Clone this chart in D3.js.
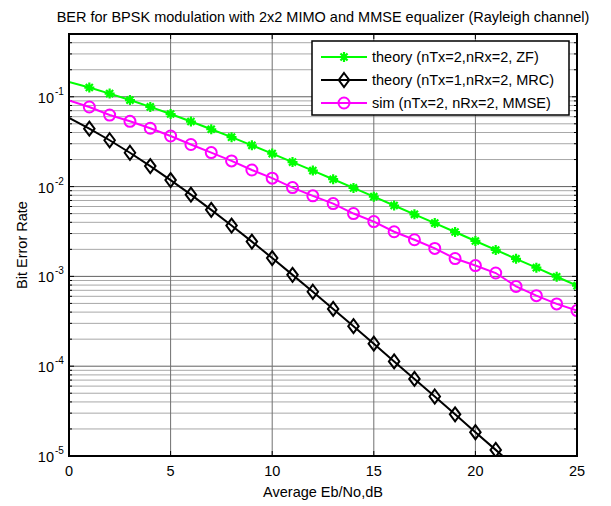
<!DOCTYPE html>
<meta charset="utf-8">
<style>
  body { margin: 0; background: #fff; }
  text { font-family: "Liberation Sans", Arial, sans-serif; }
</style>
<body>
<script src="https://d3js.org/d3.v7.min.js"></script>
<script>

var width = 611,
    height = 506;

// Eb/No points (dB)
var ebno = [0,1,2,3,4,5,6,7,8,9,10,11,12,13,14,15,16,17,18,19,20,21,22,23,24,25];

// theory, nTx=2, nRx=2, ZF
var berZF = [0.1464,0.1267,0.1085,0.0919,0.0771,0.0642,0.0530,0.0435,0.0355,0.0288,
             0.0233,0.01875,0.01506,0.01208,0.00967,0.00772,0.00616,0.00491,0.00392,0.00312,
             0.00248,0.00197,0.00157,0.00125,0.000991,0.000788];

// theory, nTx=1, nRx=2, MRC
var berMRC = [0.0581,0.0441,0.0328,0.0238,0.0169,0.0118,0.00813,0.00551,0.00368,0.00244,
              0.00160,0.00104,0.000674,0.000434,0.000279,0.000178,0.000113,0.0000721,0.0000460,0.0000291,
              0.0000184,0.0000117,0.0000074,0.0000047,0.0000029,0.0000019];

// simulation, nTx=2, nRx=2, MMSE
var berMMSE = [0.0912,0.0769,0.0626,0.0533,0.0446,0.0366,0.0294,0.0239,0.0193,0.0153,
               0.0124,0.00975,0.00788,0.00647,0.00501,0.00408,0.00314,0.00256,0.00205,0.00158,
               0.00132,0.00109,0.000774,0.000610,0.000494,0.000416];

var xTicks = [0,5,10,15,20,25];
var yDecades = [1e-5,1e-4,1e-3,1e-2,1e-1];
var yExp = [-5,-4,-3,-2,-1];

var legendLabels = ["theory (nTx=2,nRx=2, ZF)", "theory (nTx=1,nRx=2, MRC)", "sim (nTx=2, nRx=2, MMSE)"];

var margin = {left: 69, right: 34, top: 34, bottom: 50};
var fs = 14.5;

var x = d3.scaleLinear().domain([0, 25]).range([margin.left, width - margin.right]);
var y = d3.scaleLog().domain([1e-5, 0.5]).range([height - margin.bottom, margin.top]);

var svg = d3.select("body").append("svg")
    .attr("width", width)
    .attr("height", height);

var x0 = x(0), x1 = x(25), yTop = y(0.5), yBot = y(1e-5);

// minor y values
var minor = [];
yDecades.forEach(function(d) {
  for (var k = 2; k <= 9; k++) {
    var v = d * k;
    if (v <= 0.5) minor.push(v);
  }
});

// grid
svg.append("g").selectAll("line.ymin")
    .data(minor)
  .enter().append("line")
    .attr("x1", x0).attr("x2", x1)
    .attr("y1", function(d) { return y(d); })
    .attr("y2", function(d) { return y(d); })
    .attr("stroke", "#a8a8a8").attr("stroke-width", 1);

svg.append("g").selectAll("line.ymaj")
    .data(yDecades.slice(1))
  .enter().append("line")
    .attr("x1", x0).attr("x2", x1)
    .attr("y1", function(d) { return y(d); })
    .attr("y2", function(d) { return y(d); })
    .attr("stroke", "#606060").attr("stroke-width", 1);

svg.append("g").selectAll("line.xg")
    .data(xTicks.slice(1, -1))
  .enter().append("line")
    .attr("x1", function(d) { return x(d); })
    .attr("x2", function(d) { return x(d); })
    .attr("y1", yTop).attr("y2", yBot)
    .attr("stroke", "#707070").attr("stroke-width", 1);

// ticks (inward), left/right/top/bottom
var tk = svg.append("g").attr("stroke", "#000").attr("stroke-width", 1);
xTicks.forEach(function(d) {
  tk.append("line").attr("x1", x(d)).attr("x2", x(d)).attr("y1", yBot).attr("y2", yBot - 5);
  tk.append("line").attr("x1", x(d)).attr("x2", x(d)).attr("y1", yTop).attr("y2", yTop + 5);
});
yDecades.forEach(function(d) {
  tk.append("line").attr("x1", x0).attr("x2", x0 + 5).attr("y1", y(d)).attr("y2", y(d));
  tk.append("line").attr("x1", x1).attr("x2", x1 - 5).attr("y1", y(d)).attr("y2", y(d));
});
minor.forEach(function(d) {
  tk.append("line").attr("x1", x0).attr("x2", x0 + 3).attr("y1", y(d)).attr("y2", y(d));
  tk.append("line").attr("x1", x1).attr("x2", x1 - 3).attr("y1", y(d)).attr("y2", y(d));
});

// clip
svg.append("clipPath").attr("id", "clip")
  .append("rect")
    .attr("x", x0).attr("y", yTop)
    .attr("width", x1 - x0).attr("height", yBot - yTop);

var series = [
  {name: legendLabels[0], values: berZF, color: "#00ff00", marker: "star"},
  {name: legendLabels[1], values: berMRC, color: "#000000", marker: "diamond"},
  {name: legendLabels[2], values: berMMSE, color: "#ff00ff", marker: "circle"}
];

var line = d3.line()
    .x(function(d) { return x(d[0]); })
    .y(function(d) { return y(d[1]); });

function drawMarker(g, type, color, cx, cy) {
  if (type === "circle") {
    g.append("circle").attr("cx", cx).attr("cy", cy).attr("r", 5.5)
      .attr("fill", "none").attr("stroke", color).attr("stroke-width", 2);
  } else if (type === "diamond") {
    var s = 7;
    g.append("path")
      .attr("d", "M" + cx + "," + (cy - s) + "L" + (cx + s * 0.75) + "," + cy +
                 "L" + cx + "," + (cy + s) + "L" + (cx - s * 0.75) + "," + cy + "Z")
      .attr("fill", "none").attr("stroke", color).attr("stroke-width", 2);
  } else {
    var r = 5;
    var p = "";
    for (var i = 0; i < 4; i++) {
      var a = Math.PI / 4 * i;
      p += "M" + (cx - r * Math.cos(a)) + "," + (cy - r * Math.sin(a)) +
           "L" + (cx + r * Math.cos(a)) + "," + (cy + r * Math.sin(a));
    }
    g.append("path").attr("d", p).attr("stroke", color).attr("stroke-width", 2.2).attr("fill", "none");
    g.append("circle").attr("cx", cx).attr("cy", cy).attr("r", 2.5).attr("fill", color);
  }
}

var plot = svg.append("g").attr("clip-path", "url(#clip)");

series.forEach(function(s) {
  var pts = ebno.map(function(e, i) { return [e, s.values[i]]; });
  plot.append("path")
      .datum(pts)
      .attr("d", line)
      .attr("fill", "none")
      .attr("stroke", s.color)
      .attr("stroke-width", 2);
  var mg = plot.append("g");
  pts.slice(1).forEach(function(p) {
    drawMarker(mg, s.marker, s.color, x(p[0]), y(p[1]));
  });
});

// box
svg.append("rect")
    .attr("x", x0).attr("y", yTop)
    .attr("width", x1 - x0).attr("height", yBot - yTop)
    .attr("fill", "none").attr("stroke", "#000").attr("stroke-width", 2);

// x tick labels
svg.append("g").selectAll("text")
    .data(xTicks)
  .enter().append("text")
    .attr("x", function(d) { return x(d); })
    .attr("y", yBot + 20)
    .attr("text-anchor", "middle")
    .attr("font-size", fs)
    .text(function(d) { return d; });

// y tick labels 10^n
var yl = svg.append("g");
yDecades.forEach(function(d, i) {
  yl.append("text")
      .attr("x", x0 - 15)
      .attr("y", y(d) + 6)
      .attr("text-anchor", "end")
      .attr("font-size", fs)
      .text("10");
  yl.append("text")
      .attr("x", x0 - 14)
      .attr("y", y(d) - 2)
      .attr("font-size", 10)
      .text(yExp[i]);
});

// axis labels and title
svg.append("text")
    .attr("x", (x0 + x1) / 2)
    .attr("y", yBot + 41)
    .attr("text-anchor", "middle")
    .attr("font-size", fs)
    .text("Average Eb/No,dB");

svg.append("text")
    .attr("transform", "translate(27," + ((yTop + yBot) / 2) + ") rotate(-90)")
    .attr("text-anchor", "middle")
    .attr("font-size", fs)
    .text("Bit Error Rate");

svg.append("text")
    .attr("x", (x0 + x1) / 2)
    .attr("y", 22)
    .attr("text-anchor", "middle")
    .attr("font-size", fs)
    .text("BER for BPSK modulation with 2x2 MIMO and MMSE equalizer (Rayleigh channel)");

// legend
var lg = svg.append("g");
lg.append("rect")
    .attr("x", 312).attr("y", 41)
    .attr("width", 257).attr("height", 74)
    .attr("fill", "#fff").attr("stroke", "#000").attr("stroke-width", 1.5);

series.forEach(function(s, i) {
  var ly = 57 + i * 23;
  lg.append("line")
      .attr("x1", 321).attr("x2", 367)
      .attr("y1", ly).attr("y2", ly)
      .attr("stroke", s.color).attr("stroke-width", 2);
  drawMarker(lg, s.marker, s.color, 344, ly);
  lg.append("text")
      .attr("x", 372)
      .attr("y", ly + 5)
      .attr("font-size", fs)
      .text(s.name);
});

</script>
